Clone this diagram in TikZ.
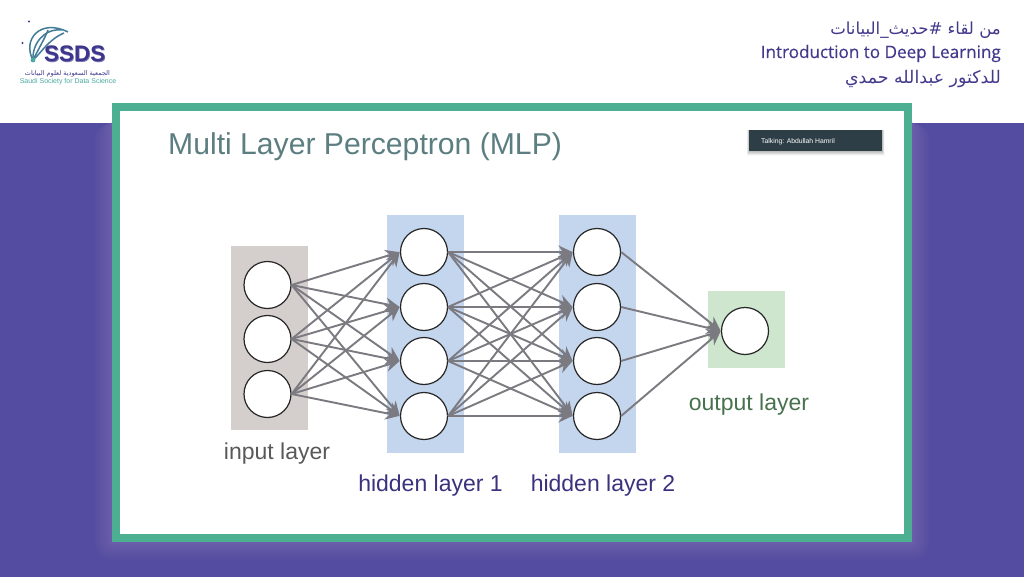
\documentclass[tikz,border=0pt]{standalone}
\usepackage{fontspec}
\setmainfont{Liberation Sans}
\newfontfamily\headfont[FakeBold=0.4]{Open Sans}
\newfontfamily\arabicfont[Script=Arabic]{DejaVu Sans}
\TeXXeTstate=1
\usetikzlibrary{arrows.meta}
\definecolor{mypurple}{RGB}{84,76,160}
\definecolor{myglow}{RGB}{108,95,170}
\definecolor{myframe}{RGB}{76,175,146}
\definecolor{mytitle}{RGB}{92,126,128}
\definecolor{myinput}{RGB}{212,206,204}
\definecolor{myhidden}{RGB}{196,213,238}
\definecolor{myoutput}{RGB}{205,230,205}
\definecolor{myedge}{RGB}{122,122,128}
\definecolor{mydark}{RGB}{46,62,70}
\definecolor{myink}{RGB}{66,56,140}
\definecolor{mylogo}{RGB}{60,54,140}
\definecolor{myteal}{RGB}{72,170,160}
\definecolor{mygreenlab}{RGB}{72,114,78}
\tikzset{
  layerbox/.style={rectangle,minimum width=77pt,inner sep=0pt},
  neuron/.style={circle,draw=black!85,line width=1.2pt,fill=white,minimum size=47pt,inner sep=0pt},
  synapse/.style={-{Stealth[length=14pt,width=13pt]},line width=1.9pt,color=myedge,shorten >=0.5pt},
  laylab/.style={font=\fontsize{23}{25}\selectfont,inner sep=0pt},
  headline/.style={anchor=base east,inner sep=0pt,text=myink},
  logoarc/.style={line width=1.5pt,color=myteal!60!mylogo},
}
\begin{document}
\begin{tikzpicture}[x=1pt,y=-1pt]
  \useasboundingbox (0,0) rectangle (1024,577);
  \fill[white] (0,0) rectangle (1024,577);
  \fill[mypurple] (0,123) rectangle (1024,577);
  % glow round the frame
  \foreach \g in {20,18,...,2}
    \pgfmathtruncatemacro{\p}{100-5*\g}
    \fill[myglow!\p!mypurple,rounded corners=\g pt] (112-\g,123) -- (112-\g,542+\g) -- (912+\g,542+\g) -- (912+\g,123) -- cycle;
  % frame
  \node[rectangle,draw=myframe,line width=8pt,fill=white,minimum width=792pt,minimum height=431pt,inner sep=0pt]
    (frame) at (512,322.5) {};
  % logo
  \draw[logoarc] (33,60) .. controls (22,40) and (40,18) .. (68,32);
  \draw[logoarc] (33,60) .. controls (32,44) and (44,28) .. (62,30);
  \draw[logoarc] (33,60) .. controls (38,50) and (46,36) .. (48,30);
  \draw[logoarc] (33,60) .. controls (42,52) and (48,40) .. (64,33);
  \fill[myteal] (33,60) circle (2.4pt);
  \fill[mylogo] (29,21.5) circle (1.2pt) (22.5,43) circle (1.2pt);
  \node[inner sep=0pt,text=mylogo!70,anchor=base west] (ssdsback) at (44.6,62.6) {\fontsize{22.5}{24}\selectfont\bfseries SSDS};
  \node[inner sep=0pt,text=mylogo,anchor=base west] (ssds) at (44,62) {\fontsize{22.5}{24}\selectfont\bfseries SSDS};
  \node[inner sep=0pt,text=mylogo,anchor=base] (logoar) at (67.5,76) {\fontsize{6.5}{8}\selectfont\arabicfont\beginR الجمعية السعودية لعلوم البيانات\endR};
  \node[inner sep=0pt,text=myteal,anchor=base] (logoen) at (68,84) {\fontsize{7}{9}\selectfont Saudi Society for Data Science};
  % heading
  \node[headline] (headone) at (1001,35) {\fontsize{16.6}{20}\selectfont\arabicfont\beginR من لقاء \#حديث\_البيانات\endR};
  \node[headline] (headtwo) at (1001,58) {\fontsize{17.1}{20}\selectfont\headfont Introduction to Deep Learning};
  \node[headline] (headthree) at (1001,84) {\fontsize{17.4}{20}\selectfont\arabicfont\beginR للدكتور عبدالله حمدي\endR};
  % slide
  \node[anchor=base west,inner sep=0pt,text=mytitle] (title) at (168,155) {\fontsize{30.15}{32}\selectfont Multi Layer Perceptron (MLP)};
  \foreach \g in {5,4,...,1}
    \pgfmathtruncatemacro{\p}{32-6*\g}
    \fill[black!\p] (749-\g/2,130) rectangle (882+\g/2,151+\g);
  \node[rectangle,fill=mydark,minimum width=133pt,minimum height=21pt,inner sep=0pt]
    (talk) at (815.5,140.5) {};
  \node[anchor=west,inner sep=0pt,text=white] (talktext) at (761,142) {\fontsize{6.8}{7}\selectfont Talking: Abdullah Hamril};
  % layers
  \node[layerbox,fill=myinput,minimum height=184pt] (inbox) at (269,338) {};
  \node[layerbox,fill=myhidden,minimum height=238pt] (hidbox) at (425.5,334) {};
  \node[layerbox,fill=myhidden,minimum height=238pt] (hidtbox) at (597.5,334) {};
  \node[layerbox,fill=myoutput,minimum height=77pt] (outbox) at (746.5,329.5) {};
  % neurons
  \node[neuron] (in1) at (267.5,285) {};
  \node[neuron] (in2) at (267.5,339) {};
  \node[neuron] (in3) at (267.5,394) {};
  \node[neuron] (ha1) at (424,252) {};
  \node[neuron] (ha2) at (424,307) {};
  \node[neuron] (ha3) at (424,361) {};
  \node[neuron] (ha4) at (424,416) {};
  \node[neuron] (hb1) at (597,252) {};
  \node[neuron] (hb2) at (597,307) {};
  \node[neuron] (hb3) at (597,361) {};
  \node[neuron] (hb4) at (597,416) {};
  \node[neuron] (out) at (745,331) {};
  % edges
  \foreach \a in {1,2,3}
    \foreach \b in {1,2,3,4}
      \draw[synapse] (in\a.east) -- (ha\b.west);
  \foreach \a in {1,2,3,4}
    \foreach \b in {1,2,3,4}
      \draw[synapse] (ha\a.east) -- (hb\b.west);
  \foreach \a in {1,2,3,4}
    \draw[synapse] (hb\a.east) -- (out.west);
  % labels
  \node[laylab,text=black!65,anchor=base] (inlab) at (277,459) {input layer};
  \node[laylab,text=myink!90!black,anchor=base] (halab) at (430.5,491) {hidden layer 1};
  \node[laylab,text=myink!90!black,anchor=base] (hblab) at (603,491) {hidden layer 2};
  \node[laylab,text=mygreenlab,anchor=base] (outlab) at (749,410) {output layer};
\end{tikzpicture}
\end{document}
